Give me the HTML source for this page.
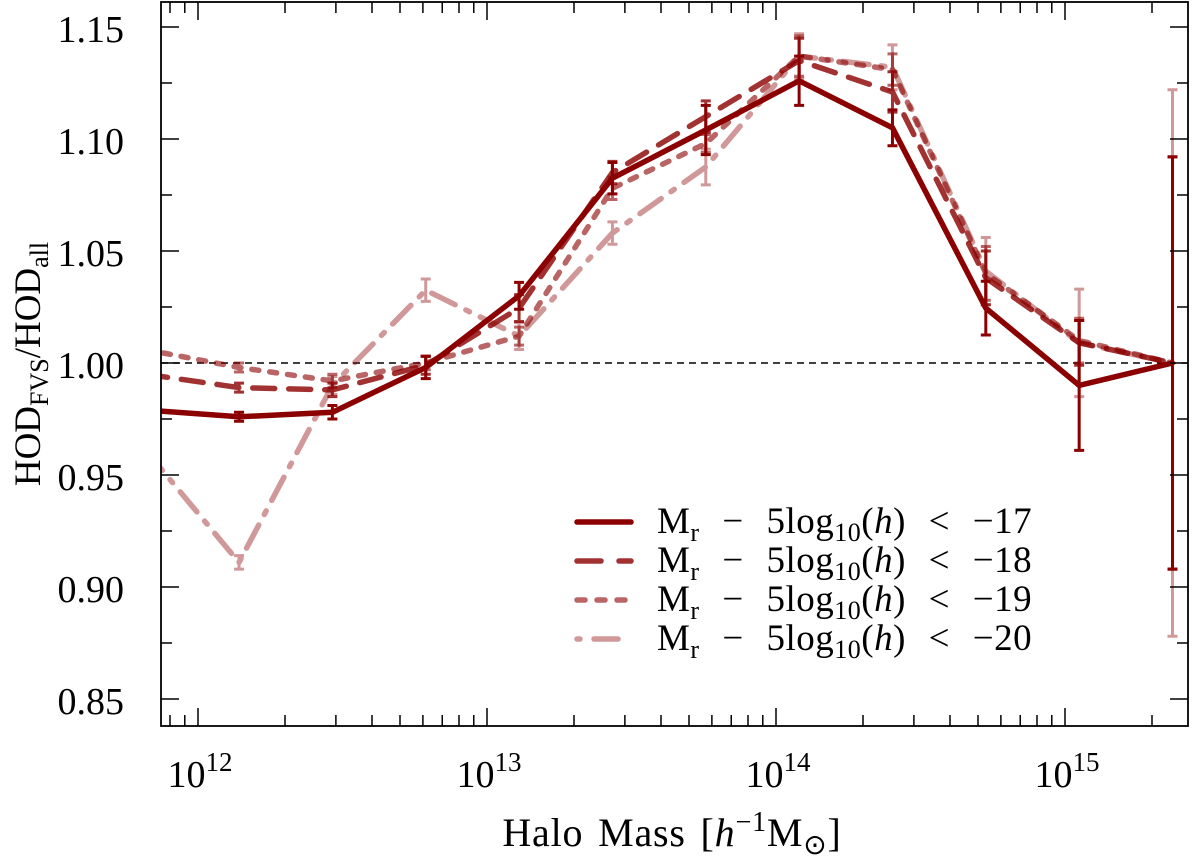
<!DOCTYPE html>
<html><head><meta charset="utf-8">
<style>
body{margin:0;background:#fff;}
svg text{font-family:"Liberation Serif",serif;fill:#000;}
</style></head>
<body>
<svg id="chart" width="1200" height="860" xmlns="http://www.w3.org/2000/svg">
<defs><clipPath id="plotclip"><rect x="161" y="2" width="1027" height="724"/></clipPath></defs>
<g id="grid"></g>
<g id="series" clip-path="url(#plotclip)"></g>
<g id="axes"></g>
<g id="legend"></g>
<text x="672" y="846" font-size="40" text-anchor="middle" word-spacing="4" letter-spacing="0.8">Halo Mass [<tspan font-style="italic">h</tspan><tspan dy="-15" font-size="28">−1</tspan><tspan dy="15">M</tspan><tspan dy="8" font-size="28">⊙</tspan><tspan dy="-8">]</tspan></text>
<text transform="translate(40,364) rotate(-90)" font-size="37" text-anchor="middle">HOD<tspan dy="8" font-size="26">FVS</tspan><tspan dy="-8">/HOD</tspan><tspan dy="8" font-size="26">all</tspan></text>
</svg>
<script>
const logMass = [11.819,12.142,12.465,12.788,13.111,13.434,13.757,14.080,14.403,14.726,15.049,15.372];
const s17 = [0.979,0.976,0.978,0.998,1.030,1.0825,1.104,1.126,1.105,1.0245,0.990,1.000];
const s17err = [0,0.002,0.003,0.005,0.006,0.007,0.011,0.011,0.008,0.012,0.029,0.092];
const s18 = [0.995,0.989,0.988,0.999,1.0245,1.085,1.110,1.135,1.121,1.038,1.009,1.000];
const s18err = [0,0.002,0.003,0.004,0.006,0.005,0.007,0.010,0.009,0.012,0.010,0.092];
const s19 = [1.006,0.998,0.992,1.000,1.012,1.078,1.098,1.137,1.131,1.040,1.010,1.000];
const s19err = [0,0.002,0.003,0.003,0.004,0.005,0.004,0.009,0.007,0.012,0.010,0.092];
const s20 = [0.961,0.911,0.990,1.0325,1.012,1.058,1.0875,1.137,1.132,1.041,1.009,1.000];
const s20err = [0,0.003,0.004,0.005,0.006,0.005,0.008,0.010,0.010,0.015,0.024,0.122];
const yTicks = [0.85,0.90,0.95,1.00,1.05,1.10,1.15];
const yTickLabels = ["0.85","0.90","0.95","1.00","1.05","1.10","1.15"];
const xDecades = [12,13,14,15];

const NS="http://www.w3.org/2000/svg";
const X0=161,X1=1188,Y0=2,Y1=726;
function xs(l){return 198+(l-12)*289;}
function ys(v){return 363-(v-1)*2240;}
function mk(tag,attrs,parent){const e=document.createElementNS(NS,tag);for(const k in attrs)e.setAttribute(k,attrs[k]);parent.appendChild(e);return e;}
const axes=document.getElementById('axes'),ser=document.getElementById('series'),grid=document.getElementById('grid');

const ref=mk('line',{x1:X0,x2:X1,y1:ys(1),y2:ys(1),stroke:'#000','stroke-width':1.5,'stroke-dasharray':'7,5'},grid);



const seriesDefs=[
 {name:'series-mr-17',vals:s17,err:s17err,op:1,dash:'',w:5.5},
 {name:'series-mr-18',vals:s18,err:s18err,op:0.8,dash:'22,14',w:5.5},
 {name:'series-mr-19',vals:s19,err:s19err,op:0.6,dash:'7,11',w:5.5},
 {name:'series-mr-20',vals:s20,err:s20err,op:0.4,dash:'26,12,4,12',w:5.5}
];
for(let si=seriesDefs.length-1;si>=0;si--){
 const s=seriesDefs[si];
 const g=mk('g',{opacity:s.op},ser);
 
 
 const pts=s.vals.map((v,i)=>xs(logMass[i]).toFixed(1)+','+ys(v).toFixed(1)).join(' ');
 const pl=mk('polyline',{points:pts,fill:'none',stroke:'#8b0000','stroke-width':s.w,'stroke-dasharray':s.dash,'stroke-linejoin':'miter','stroke-linecap':s.dash?'round':'butt'},g);
 
 
 s.vals.forEach((v,i)=>{
  if(!s.err[i])return;
  const x=xs(logMass[i]),yt=ys(v+s.err[i]),yb=ys(v-s.err[i]);
  const eb=mk('path',{d:`M${x},${yt}V${yb}M${x-5},${yt}H${x+5}M${x-5},${yb}H${x+5}`,stroke:'#8b0000','stroke-width':3,fill:'none'},g);
  
  
 });
}

const fr=mk('rect',{x:X0,y:Y0,width:X1-X0,height:Y1-Y0,fill:'none',stroke:'#000','stroke-width':1.8},axes);


for(let v=0.85;v<=1.1501;v+=0.025){
 const major=Math.abs(Math.round(v*20)-v*20)<1e-6;
 const y=ys(v);
 const t=mk('line',{x1:X0,x2:X0+(major?18:11),y1:y,y2:y,stroke:'#000','stroke-width':1.5},axes);
 
 
 const t2=mk('line',{x1:X1,x2:X1-(major?18:11),y1:y,y2:y,stroke:'#000','stroke-width':1.5},axes);
 
 
}
yTicks.forEach((v,i)=>{
 const t=mk('text',{x:124,y:ys(v)+15,'font-size':38,'text-anchor':'end'},axes);
 t.textContent=yTickLabels[i];
 
 
});
for(let d=11;d<=15;d++){for(let m=1;m<10;m++){
 const l=d+Math.log10(m),x=xs(l);
 if(x<X0||x>X1)continue;
 const major=m===1;
 const t=mk('line',{x1:x,x2:x,y1:Y1,y2:Y1-(major?18:11),stroke:'#000','stroke-width':1.5},axes);
 
 
 const t2=mk('line',{x1:x,x2:x,y1:Y0,y2:Y0+(major?18:11),stroke:'#000','stroke-width':1.5},axes);
 
 
}}
xDecades.forEach(d=>{
 const t=mk('text',{x:xs(d)+2,y:787,'font-size':38,'text-anchor':'middle'},axes);
 t.innerHTML='10<tspan dy="-16" font-size="27">'+d+'</tspan>';
 
 
});
const leg=document.getElementById('legend');
const labels=['−17','−18','−19','−20'];
const legDash=['','24,18','8,12','3,14,24,100'];
seriesDefs.forEach((s,i)=>{
 const y=522+i*39;
 const g=mk('g',{},leg);
 
 
 mk('line',{x1:577,x2:631,y1:y,y2:y,stroke:'#8b0000','stroke-width':5.5,opacity:s.op,'stroke-dasharray':legDash[i],'stroke-linecap':'round'},g);
 const t=mk('text',{x:657,y:y+11,'font-size':37,'word-spacing':13,'letter-spacing':0.5},g);
 t.innerHTML='M<tspan dy="8" font-size="26">r</tspan><tspan dy="-8"> − 5log</tspan><tspan dy="8" font-size="26">10</tspan><tspan dy="-8">(<tspan font-style="italic">h</tspan>) &lt; '+labels[i]+'</tspan>';
});
</script>
</body></html>
